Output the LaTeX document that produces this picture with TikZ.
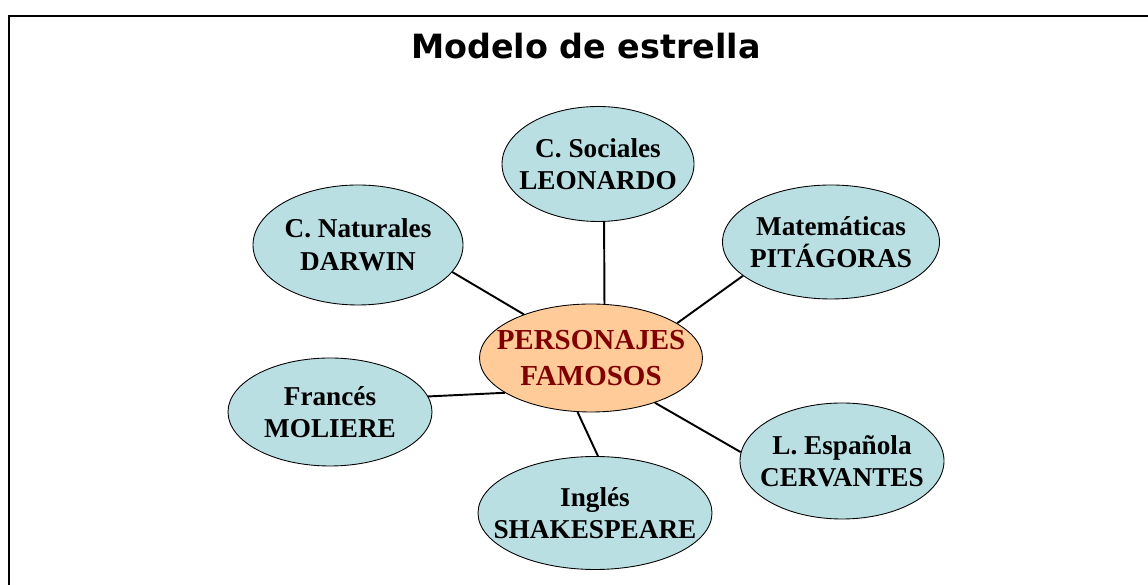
\documentclass[tikz,border=0pt]{standalone}
\usepackage{fontspec}
\setmainfont{Liberation Serif}
\newfontfamily\titlefont{DejaVu Sans}
\usetikzlibrary{shapes.geometric}
\definecolor{topicfill}{HTML}{BADFE3}
\definecolor{hubfill}{HTML}{FFCC99}
\definecolor{hubtext}{HTML}{800000}

\begin{document}
\begin{tikzpicture}[topic/.style ={ellipse, draw=black, line width=0.5pt, fill=topicfill},
                    hub/.style   ={ellipse, draw=black, line width=0.5pt, fill=hubfill},
                    word/.style  ={align=center, inner sep=0, font=\bfseries\fontsize{15.5}{18.5}\selectfont},
                    hubword/.style={word, text=hubtext, font=\bfseries\fontsize{16.5}{20}\selectfont},
                    link/.style  ={-, draw, line width=1.1pt, color=black},
                    frame/.style ={draw, line width=1.1pt, line cap=rect}]

      \useasboundingbox (0,0) rectangle (22.96,11.7);
      \draw[frame] (0.186,0) -- (0.186,11.38) -- (22.96,11.38);

      \node[font=\titlefont\bfseries\fontsize{19}{22}\selectfont] at(11.72,10.78) (title) {Modelo de estrella};

      \node[hub,   minimum width=4.46cm, minimum height=2.16cm, label={[hubword]center:PERSONAJES\\FAMOSOS}] at(11.82,4.54) (fam) {};
      \node[topic, minimum width=3.84cm, minimum height=2.30cm, label={[word]center:C. Sociales\\LEONARDO}]   at(11.96,8.42) (soc) {};
      \node[topic, minimum width=4.20cm, minimum height=2.40cm, label={[word]center:C. Naturales\\DARWIN}]    at(7.16,6.80)  (nat) {};
      \node[topic, minimum width=4.34cm, minimum height=2.28cm, label={[word]center:Matemáticas\\PITÁGORAS}]  at(16.62,6.86) (mat) {};
      \node[topic, minimum width=4.08cm, minimum height=2.16cm, label={[word]center:Francés\\MOLIERE}]        at(6.60,3.46)  (fra) {};
      \node[topic, minimum width=4.68cm, minimum height=2.26cm, label={[word]center:Inglés\\SHAKESPEARE}]     at(11.90,1.44) (ing) {};
      \node[topic, minimum width=4.08cm, minimum height=2.32cm, label={[word]center:L. Española\\CERVANTES}]  at(16.84,2.48) (esp) {};

      \path[link] (soc.276)   -- (fam.76.5);
      \path[link] (nat.344.7) -- (fam.147.8);
      \path[link] (mat.201)   -- (fam.22.5);
      \path[link] (fra.9)     -- (fam.202.6);
      \path[link] (ing.87)    -- (fam.256.5);
      \path[link] (esp.175)   -- (fam.325.5);
    \end{tikzpicture}
\end{document}
